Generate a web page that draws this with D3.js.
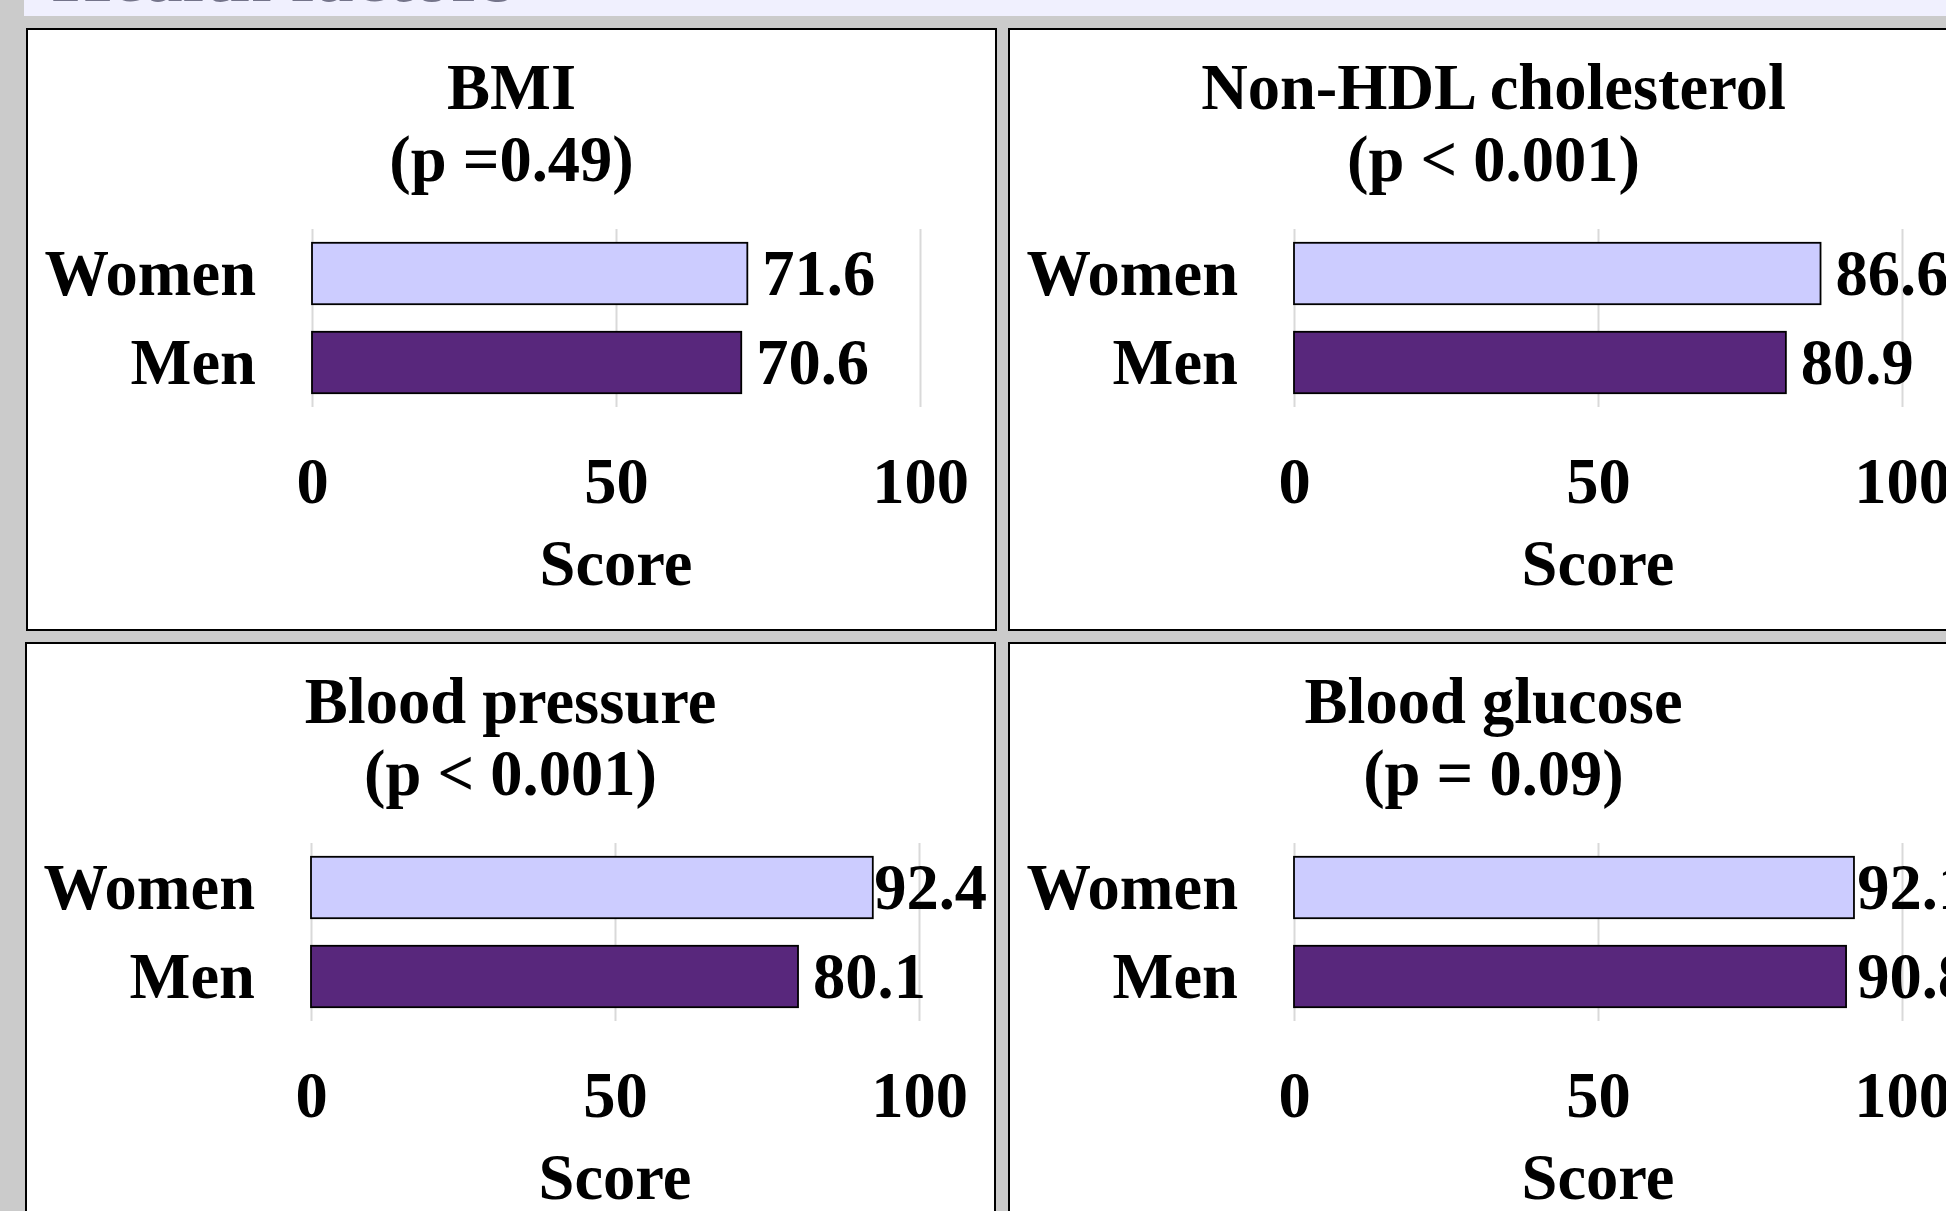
<!DOCTYPE html>
<html>
<head>
<meta charset="utf-8">
<title>Health factors</title>
<script src="https://cdn.jsdelivr.net/npm/d3@7"></script>
<style>
  html, body { margin: 0; padding: 0; background: #cbcbcb; overflow: hidden; }
  svg { display: block; }
  text { font-family: "Liberation Serif", "Times New Roman", serif; font-weight: bold; }
</style>
</head>
<body>
<script>
// Scores for each health factor, split by sex
const factorNames = ["BMI", "Non-HDL cholesterol", "Blood pressure", "Blood glucose"];
const pLabels = ["(p =0.49)", "(p < 0.001)", "(p < 0.001)", "(p = 0.09)"];
const groups = ["Women", "Men"];
const womenScores = [71.6, 86.6, 92.4, 92.1];
const menScores = [70.6, 80.9, 80.1, 90.8];
const scoreTicks = [0, 50, 100];
const axisTitle = "Score";
const headerTitle = "Health factors";

const W = 1946, H = 1211;
const svg = d3.select("body").append("svg").attr("width", W).attr("height", H);

svg.append("rect").attr("width", W).attr("height", H).attr("fill", "#cbcbcb");

// header band with the section title running off the top
svg.append("rect").attr("x", 24).attr("y", 0).attr("width", W - 24).attr("height", 16)
  .attr("fill", "#f0f0fe");
svg.append("text").attr("x", 52).attr("y", 1)
  .attr("font-size", 76).attr("fill", "#74748a").text(headerTitle);

// panel layout
const panelW = 969, panelH = 601;
const panelPos = [[27, 29], [1009, 29], [26, 643], [1009, 643]];
const fontSize = 64.5;

const x = d3.scaleLinear().domain([0, 100]).range([285, 893]);
const y = d3.scaleBand().domain(groups).range([200, 378]).paddingInner(0.31).paddingOuter(0.155);
const fills = { Women: "#ccccff", Men: "#58277c" };

factorNames.forEach((name, i) => {
  const g = svg.append("g").attr("transform", `translate(${panelPos[i][0]},${panelPos[i][1]})`);

  g.append("rect").attr("width", panelW).attr("height", panelH)
    .attr("fill", "#ffffff").attr("stroke", "#000").attr("stroke-width", 2);

  // title
  const cx = panelW / 2;
  g.append("text").attr("x", cx).attr("y", 80).attr("text-anchor", "middle")
    .attr("font-size", fontSize).text(name);
  g.append("text").attr("x", cx).attr("y", 152).attr("text-anchor", "middle")
    .attr("font-size", fontSize).text(pLabels[i]);

  // vertical gridlines
  const grid = g.append("g").attr("transform", `translate(0,${y.range()[1]})`)
    .call(d3.axisBottom(x).tickValues(scoreTicks).tickSize(-(y.range()[1] - y.range()[0])).tickFormat(""));
  grid.select(".domain").remove();
  grid.selectAll("line").attr("stroke", "#d9d9d9").attr("stroke-width", 2);

  // tick labels
  const ax = g.append("g").attr("transform", "translate(0,474)")
    .call(d3.axisBottom(x).tickValues(scoreTicks).tickSize(0).tickFormat(d3.format("d")));
  ax.select(".domain").remove();
  ax.selectAll("text").attr("y", 0).attr("dy", 0)
    .attr("font-size", fontSize).attr("fill", "#000")
    .style("font-family", '"Liberation Serif", "Times New Roman", serif').style("font-weight", "bold");

  g.append("text").attr("x", (x(0) + x(100)) / 2).attr("y", 556).attr("text-anchor", "middle")
    .attr("font-size", fontSize).text(axisTitle);

  const rows = [
    { group: "Women", value: womenScores[i] },
    { group: "Men", value: menScores[i] }
  ];

  // category labels
  g.selectAll("text.cat").data(rows).join("text").attr("class", "cat")
    .attr("x", 229).attr("y", d => y(d.group) + y.bandwidth() / 2 + 21)
    .attr("text-anchor", "end").attr("font-size", fontSize).text(d => d.group);

  // bars
  g.selectAll("rect.bar").data(rows).join("rect").attr("class", "bar")
    .attr("x", x(0)).attr("y", d => y(d.group))
    .attr("width", d => x(d.value) - x(0)).attr("height", y.bandwidth())
    .attr("fill", d => fills[d.group]).attr("stroke", "#000").attr("stroke-width", 1.8);

  // value labels, kept inside the panel
  g.selectAll("text.val").data(rows).join("text").attr("class", "val")
    .attr("y", d => y(d.group) + y.bandwidth() / 2 + 21)
    .attr("font-size", fontSize).text(d => d.value.toFixed(1))
    .attr("x", function (d) {
      const w = this.getComputedTextLength();
      return Math.min(x(d.value) + 15, panelW - 8 - w);
    });
});
</script>
</body>
</html>
